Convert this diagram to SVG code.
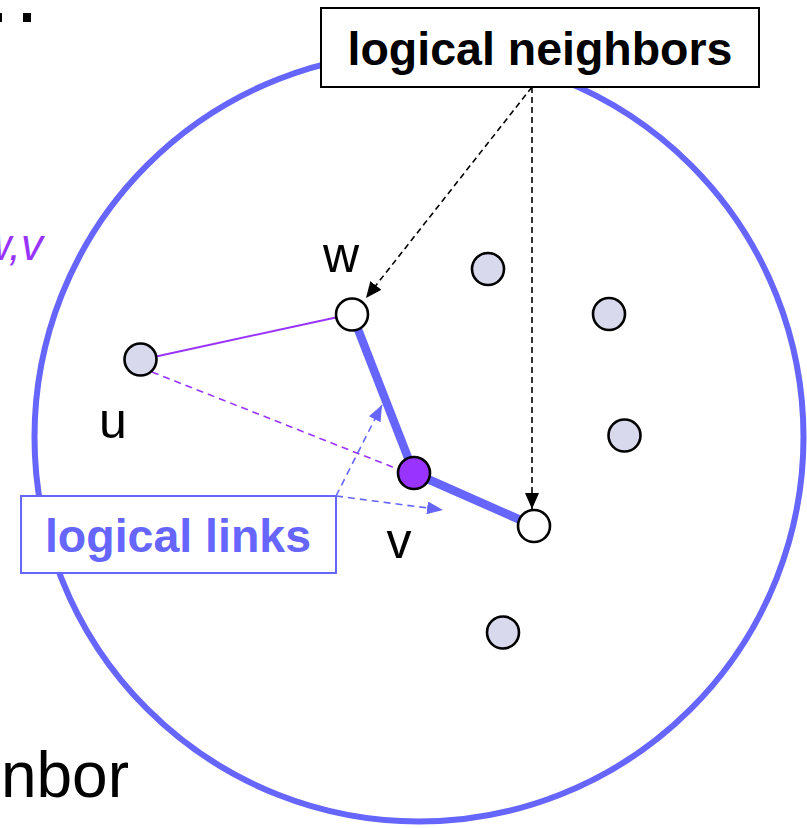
<svg xmlns="http://www.w3.org/2000/svg" width="807" height="828" viewBox="0 0 807 828">
<style>
.node{stroke:#000;stroke-width:2.6}
.plain{fill:#D9D9EE}
.open{fill:#fff}
.lbl{font-family:"Liberation Sans",Arial,sans-serif;font-size:50px;fill:#000}
.box{font-family:"Liberation Sans",Arial,sans-serif;font-weight:bold;font-size:46.5px}
</style>
<defs>
<marker id="ah" viewBox="0 0 16 14" refX="16" refY="7" markerWidth="16" markerHeight="14" markerUnits="userSpaceOnUse" orient="auto"><path d="M0,0 L16,7 L0,14 z" fill="#000"/></marker>
<marker id="ab" viewBox="0 0 16 13" refX="16" refY="6.5" markerWidth="16" markerHeight="13" markerUnits="userSpaceOnUse" orient="auto"><path d="M0,0 L16,6.5 L0,13 z" fill="#6666FF"/></marker>
</defs>
<rect width="807" height="828" fill="#fff"/>
<rect x="0" y="13" width="2" height="9" fill="#000"/>
<rect x="23" y="13" width="8" height="9" fill="#000"/>
<text x="43" y="260" font-family="Liberation Sans,Arial,sans-serif" font-style="italic" font-size="44" fill="#9933FF" text-anchor="end">w,v</text>
<text x="129" y="797" font-family="Liberation Sans,Arial,sans-serif" font-size="64" fill="#000" text-anchor="end">nbor</text>
<circle cx="419" cy="437" r="384.5" fill="none" stroke="#6666FF" stroke-width="6"/>
<g id="connectors">
<line x1="352" y1="314" x2="414" y2="473" stroke="#6666FF" stroke-width="8.5"/>
<line x1="414" y1="473" x2="534" y2="526" stroke="#6666FF" stroke-width="8.5"/>
<line x1="140" y1="360" x2="352" y2="314" stroke="#9933FF" stroke-width="2"/>
<line x1="152" y1="372" x2="400" y2="470" stroke="#9933FF" stroke-width="1.6" stroke-dasharray="7,5"/>
<line x1="336" y1="496" x2="382" y2="405" stroke="#6666FF" stroke-width="1.6" stroke-dasharray="7,5" marker-end="url(#ab)"/>
<line x1="336" y1="496" x2="443" y2="510" stroke="#6666FF" stroke-width="1.6" stroke-dasharray="7,5" marker-end="url(#ab)"/>
<line x1="532" y1="87" x2="366" y2="298" stroke="#000" stroke-width="1.6" stroke-dasharray="6,4" marker-end="url(#ah)"/>
<line x1="532" y1="87" x2="532" y2="509" stroke="#000" stroke-width="1.6" stroke-dasharray="6,4" marker-end="url(#ah)"/>
</g>
<g id="u"><circle class="node plain" cx="140.5" cy="359.5" r="16"/><text class="lbl" x="113" y="438" text-anchor="middle">u</text></g>
<g id="w"><circle class="node open" cx="352" cy="314.5" r="16"/><text class="lbl" x="341" y="272" text-anchor="middle">w</text></g>
<g id="v"><circle class="node" fill="#9933FF" cx="414" cy="473" r="16"/><text class="lbl" x="399" y="558" text-anchor="middle">v</text></g>
<g id="n_right"><circle class="node open" cx="534" cy="526" r="16"/></g>
<g id="n1"><circle class="node plain" cx="488" cy="269" r="16"/></g>
<g id="n2"><circle class="node plain" cx="609" cy="314" r="16"/></g>
<g id="n3"><circle class="node plain" cx="624.5" cy="435.5" r="16"/></g>
<g id="n4"><circle class="node plain" cx="503" cy="632.5" r="16"/></g>
<g id="logical_neighbors"><rect x="321" y="8" width="438" height="79" fill="#fff" stroke="#000" stroke-width="2"/><text class="box" x="540" y="65" text-anchor="middle" fill="#000">logical neighbors</text></g>
<g id="logical_links"><rect x="21" y="496" width="315" height="77" fill="#fff" stroke="#6666FF" stroke-width="2"/><text class="box" x="178" y="552" text-anchor="middle" fill="#6666FF">logical links</text></g>
</svg>
